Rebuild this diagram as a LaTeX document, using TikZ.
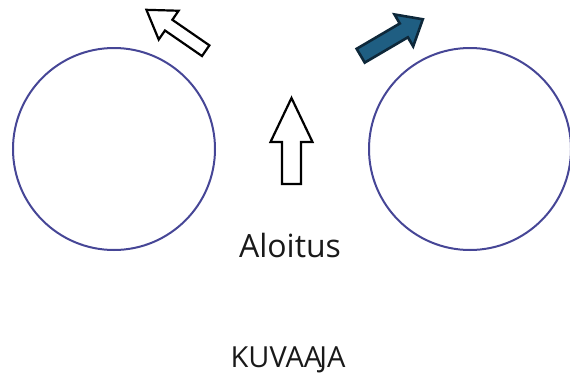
\documentclass[tikz,border=0pt]{standalone}
\usepackage{fontspec}
\setmainfont{Open Sans}
\definecolor{ringc}{RGB}{70,70,150}
\definecolor{bluefill}{RGB}{31,94,130}
\definecolor{blueline}{RGB}{14,40,58}
\newcommand{\blkarrow}[5]{%
  \path[#1] (0,-#3) -- ({#2-#5},-#3) -- ({#2-#5},-#4) -- (#2,0) -- ({#2-#5},#4) -- ({#2-#5},#3) -- (0,#3) -- cycle;}
\tikzset{
  ring/.style={circle, draw=ringc, line width=2pt, minimum size=202pt, inner sep=0pt},
  whitearrow/.style={draw=black, fill=white, line width=2.2pt, line join=miter},
  bluearrow/.style={draw=blueline, fill=bluefill, line width=2.6pt, line join=miter},
  lbl/.style={text=black!90, inner sep=0pt, anchor=base}
}
\begin{document}
\begin{tikzpicture}[x=1pt,y=-1pt]
\useasboundingbox (0,0) rectangle (570,378);
\node[ring] (left) at (114,149) {};
\node[ring] (right) at (470,149) {};
\begin{scope}[shift={(291.5,184)}, rotate=90]
  \blkarrow{whitearrow}{86}{9.5}{21}{44}
\end{scope}
\begin{scope}[shift={(205.7,50.7)}, rotate=145.4]
  \blkarrow{whitearrow}{72}{6.5}{17.5}{27}
\end{scope}
\begin{scope}[shift={(360.7,55.7)}, rotate=30.4]
  \blkarrow{bluearrow}{72}{8}{18.5}{22}
\end{scope}
\node[lbl, font=\fontsize{32}{38}\selectfont] (start) at (290,257) {Aloitus};
\node[lbl, font=\fontsize{29}{34}\selectfont] (title) at (288,367) {KUVAA\kern-3pt JA};
\end{tikzpicture}
\end{document}
